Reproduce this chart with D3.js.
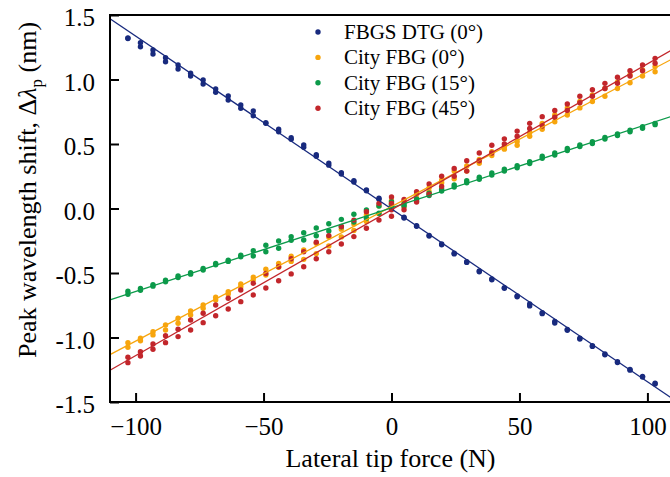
<!DOCTYPE html>
<html>
<head>
<meta charset="utf-8">
<script src="https://cdn.jsdelivr.net/npm/d3@7"></script>
<style>
  html, body { margin: 0; padding: 0; background: #ffffff; }
  svg { display: block; font-family: "Liberation Serif", "Times New Roman", serif; }
</style>
</head>
<body>
<svg id="chart" width="670" height="477"></svg>
<script>
// lateral tip force, 0.5 kg steps (N)
const forceN = [-103.0, -98.1, -93.2, -88.3, -83.4, -78.5, -73.6, -68.7, -63.8, -58.9, -54.0,
  -49.1, -44.1, -39.2, -34.3, -29.4, -24.5, -19.6, -14.7, -9.8, -4.9, 0,
  4.9, 9.8, 14.7, 19.6, 24.5, 29.4, 34.3, 39.2, 44.1, 49.1, 54.0, 58.9, 63.8,
  68.7, 73.6, 78.5, 83.4, 88.3, 93.2, 98.1, 103.0];

// peak wavelength shift (nm), two runs per sensor
const dtgRunA = [1.322, 1.285, 1.229, 1.169, 1.112, 1.048, 0.996, 0.926, 0.872, 0.802, 0.756,
  0.665, 0.614, 0.549, 0.492, 0.418, 0.352, 0.278, 0.215, 0.143, 0.079, 0.016,
  -0.068, -0.133, -0.208, -0.275, -0.347, -0.412, -0.484, -0.546, -0.613, -0.678, -0.740,
  -0.808, -0.875, -0.937, -1.006, -1.063, -1.128, -1.188, -1.247, -1.301, -1.355];
const dtgRunB = [1.318, 1.254, 1.198, 1.138, 1.081, 1.027, 0.965, 0.901, 0.841, 0.777, 0.719,
  0.660, 0.595, 0.536, 0.474, 0.405, 0.336, 0.268, 0.205, 0.138, 0.072, 0.010,
  -0.074, -0.138, -0.214, -0.281, -0.352, -0.418, -0.490, -0.552, -0.619, -0.684, -0.755,
  -0.815, -0.888, -0.944, -1.012, -1.069, -1.134, -1.194, -1.253, -1.307, -1.360];

const city0RunA = [-1.040, -1.006, -0.955, -0.903, -0.851, -0.795, -0.748, -0.688, -0.645, -0.585, -0.533,
  -0.471, -0.425, -0.370, -0.322, -0.270, -0.220, -0.160, -0.120, -0.050, 0.020, 0.060,
  0.053, 0.112, 0.160, 0.220, 0.290, 0.330, 0.380, 0.440, 0.480, 0.520, 0.590,
  0.660, 0.725, 0.780, 0.830, 0.880, 0.930, 0.980, 1.035, 1.074, 1.100];
const city0RunB = [-1.076, -1.025, -0.980, -0.942, -0.890, -0.826, -0.774, -0.709, -0.663, -0.606, -0.554,
  -0.516, -0.456, -0.410, -0.394, -0.350, -0.290, -0.220, -0.170, -0.100, -0.040, 0.000,
  0.014, 0.079, 0.130, 0.200, 0.230, 0.290, 0.350, 0.410, 0.460, 0.490, 0.560,
  0.614, 0.673, 0.725, 0.780, 0.830, 0.870, 0.930, 0.975, 1.027, 1.060];

const city15RunA = [-0.642, -0.620, -0.590, -0.556, -0.523, -0.497, -0.465, -0.425, -0.400, -0.362, -0.327,
  -0.285, -0.252, -0.219, -0.188, -0.151, -0.118, -0.084, -0.045, -0.012, 0.019, 0.053,
  0.035, 0.075, 0.118, 0.150, 0.182, 0.215, 0.242, 0.275, 0.305, 0.332, 0.362,
  0.405, 0.430, 0.465, 0.493, 0.518, 0.550, 0.577, 0.607, 0.635, 0.660];
const city15RunB = [-0.665, -0.634, -0.602, -0.568, -0.535, -0.509, -0.477, -0.437, -0.410, -0.374, -0.368,
  -0.335, -0.308, -0.247, -0.244, -0.211, -0.174, -0.141, -0.105, -0.076, -0.037, 0.014,
  0.020, 0.058, 0.100, 0.135, 0.167, 0.200, 0.226, 0.260, 0.290, 0.316, 0.348,
  0.390, 0.415, 0.450, 0.480, 0.503, 0.538, 0.565, 0.594, 0.622, 0.650];

const city45RunA = [-1.153, -1.110, -1.050, -0.986, -0.936, -0.864, -0.812, -0.748, -0.696, -0.632, -0.580,
  -0.504, -0.452, -0.390, -0.335, -0.261, -0.210, -0.140, -0.090, -0.025, 0.040, 0.090,
  0.070, 0.130, 0.190, 0.250, 0.310, 0.370, 0.430, 0.490, 0.540, 0.600, 0.660,
  0.712, 0.760, 0.810, 0.870, 0.920, 0.970, 1.017, 1.068, 1.112, 1.164];
const city45RunB = [-1.195, -1.143, -1.091, -1.040, -0.993, -0.942, -0.885, -0.831, -0.779, -0.722, -0.671,
  -0.616, -0.560, -0.507, -0.451, -0.390, -0.335, -0.275, -0.218, -0.153, -0.090, -0.060,
  -0.010, 0.050, 0.110, 0.170, 0.250, 0.290, 0.370, 0.430, 0.500, 0.560, 0.620,
  0.640, 0.707, 0.760, 0.820, 0.870, 0.930, 0.970, 1.027, 1.068, 1.126];

// repeated zero-load readings
const zeroReadings = [[0.010], [0.030], [0.030], [0.040, -0.010]];

// linear fits: [slope nm/N, intercept nm]
const fitSlopes = [-0.0134, 0.01043, 0.00648, 0.01131];
const fitIntercepts = [-0.003, 0.015, 0.005, -0.010];

const seriesNames = ['FBGS DTG (0\u00B0)', 'City FBG (0\u00B0)', 'City FBG (15\u00B0)', 'City FBG (45\u00B0)'];
const seriesColors = ['#182a7e', '#f7a50d', '#0c9a4a', '#c2262b'];
const runs = [[dtgRunA, dtgRunB], [city0RunA, city0RunB], [city15RunA, city15RunB], [city45RunA, city45RunB]];

const xTicks = [-100, -50, 0, 50, 100];
const yTicks = [-1.5, -1.0, -0.5, 0.0, 0.5, 1.0, 1.5];

(function () {
  let svg = d3.select('#chart');

  let x = d3.scaleLinear().domain([-110, 110]).range([110, 673]);
  let y = d3.scaleLinear().domain([-1.5, 1.5]).range([402, 15]);

  // points
  let points = [];
  runs.forEach((pair, s) => {
    pair.forEach(run => {
      run.forEach((v, i) => points.push({ s: s, f: forceN[i], v: v }));
    });
    zeroReadings[s].forEach(v => points.push({ s: s, f: 0, v: v }));
  });

  // draw series in legend order so later series sit on top
  let dots = svg.append('g');
  dots.selectAll('circle')
    .data(points)
    .enter().append('circle')
    .attr('cx', d => x(d.f))
    .attr('cy', d => y(d.v))
    .attr('r', 2.7)
    .attr('fill', d => seriesColors[d.s]);

  // fit lines over the full force range
  let fitLine = d3.line().x(d => x(d[0])).y(d => y(d[1]));
  let lines = svg.append('g');
  fitSlopes.forEach((m, s) => {
    let ends = x.domain().map(f => [f, m * f + fitIntercepts[s]]);
    lines.append('path')
      .attr('d', fitLine(ends))
      .attr('fill', 'none')
      .attr('stroke', seriesColors[s])
      .attr('stroke-width', 1.3);
  });

  // frame
  let x0 = x.range()[0], x1 = x.range()[1], y0 = y.range()[0], y1 = y.range()[1];
  svg.append('rect')
    .attr('x', x0).attr('y', y1)
    .attr('width', x1 - x0).attr('height', y0 - y1)
    .attr('fill', 'none')
    .attr('stroke', '#000')
    .attr('stroke-width', 2);

  // axes with inward ticks
  let xAxis = svg.append('g')
    .attr('transform', 'translate(0,' + y0 + ')')
    .call(d3.axisBottom(x).tickValues(xTicks).tickSizeInner(-9).tickSizeOuter(0).tickPadding(20).tickFormat(d3.format('d')));
  let yAxis = svg.append('g')
    .attr('transform', 'translate(' + x0 + ',0)')
    .call(d3.axisLeft(y).tickValues(yTicks).tickSizeInner(-9).tickSizeOuter(0).tickPadding(15).tickFormat(d => d.toFixed(1)));

  [xAxis, yAxis].forEach(a => {
    a.select('.domain').remove();
    a.selectAll('.tick line').attr('stroke', '#000').attr('stroke-width', 2);
    a.selectAll('.tick text')
      .attr('fill', '#000')
      .style('font-family', '"Liberation Serif", serif')
      .style('font-size', '25px');
  });
  xAxis.selectAll('.tick text').attr('y', 33).attr('dy', null);
  yAxis.selectAll('.tick text').attr('dy', '0.42em');

  // axis titles
  svg.append('text')
    .attr('x', (x0 + x1) / 2 - 1)
    .attr('y', 467)
    .attr('text-anchor', 'middle')
    .style('font-size', '26px')
    .text('Lateral tip force (N)');

  let yTitle = svg.append('text')
    .attr('transform', 'translate(36,190) rotate(-90)')
    .attr('text-anchor', 'middle')
    .style('font-size', '26px');
  yTitle.append('tspan').text('Peak wavelength shift, \u0394');
  yTitle.append('tspan').style('font-style', 'italic').text('\u03BB');
  yTitle.append('tspan').attr('dy', 6).style('font-size', '17px').text('p');
  yTitle.append('tspan').attr('dy', -6).text(' (nm)');

  // legend
  let legend = svg.append('g').attr('transform', 'translate(318,32)');
  let item = legend.selectAll('g')
    .data(seriesNames)
    .enter().append('g')
    .attr('transform', (d, i) => 'translate(0,' + (i * 25.4) + ')');
  item.append('circle')
    .attr('r', 2.7)
    .attr('fill', (d, i) => seriesColors[i]);
  item.append('text')
    .attr('x', 26)
    .attr('dy', '0.33em')
    .style('font-size', '21px')
    .text(d => d);
})();
</script>
</body>
</html>
